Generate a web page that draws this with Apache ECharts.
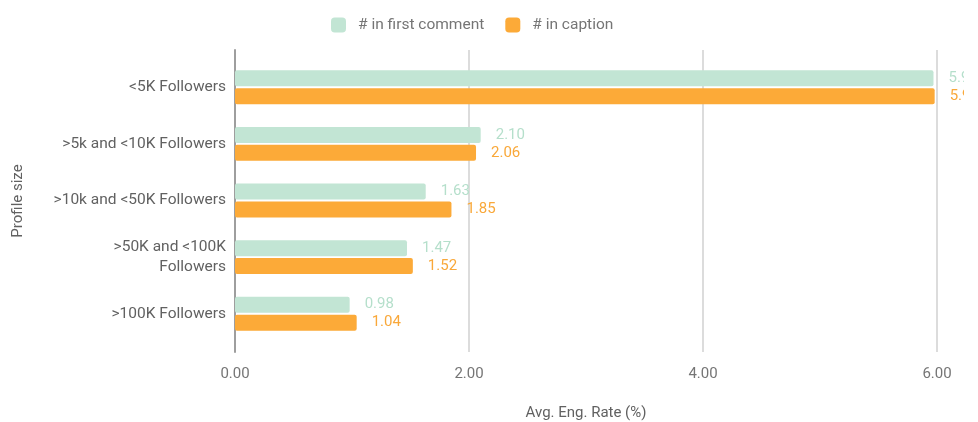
<!DOCTYPE html>
<html>
<head>
<meta charset="utf-8">
<script src="https://cdn.jsdelivr.net/npm/echarts@6/dist/echarts.min.js"></script>
<style>html,body{margin:0;padding:0;background:#fff}#c{width:978px;height:422px}</style>
</head>
<body>
<div id="c"></div>
<script>
const categories = ['<5K Followers', '>5k and <10K Followers', '>10k and <50K Followers', '>50K and <100K\nFollowers', '>100K Followers'];
const firstComment = [5.97, 2.10, 1.63, 1.47, 0.98];
const inCaption = [5.98, 2.06, 1.85, 1.52, 1.04];
const xTicks = [0, 2, 4, 6];
const seriesNames = ['# in first comment', '# in caption'];

const chart = echarts.init(document.getElementById('c'));
const font = 'Roboto, "Noto Sans", sans-serif';
const fs = 15;
chart.setOption({
  animation: false,
  textStyle: { fontFamily: font },
  legend: {
    top: 12, left: 326, itemWidth: 15, itemHeight: 15, itemGap: 21,
    icon: 'roundRect',
    textStyle: { color: '#757575', fontSize: 15.5, fontFamily: font, padding: [0, 0, 0, 7] },
    data: seriesNames
  },
  grid: [
    { left: 235, right: 41, top: 59, bottom: 80, outerBoundsMode: 'none', containLabel: false },
    { left: 235, right: 41, top: 50, bottom: 70, outerBoundsMode: 'none', containLabel: false }
  ],
  xAxis: [
    { gridIndex: 0, type: 'value', min: xTicks[0], max: xTicks[xTicks.length-1], interval: 2,
      axisLine: { show: false }, axisTick: { show: false }, axisLabel: { show: false }, splitLine: { show: false } },
    { gridIndex: 1, type: 'value', min: xTicks[0], max: xTicks[xTicks.length-1], interval: 2,
      axisLine: { show: false }, axisTick: { show: false },
      axisLabel: { color: '#757575', fontSize: fs, margin: 15, fontFamily: font, formatter: v => v.toFixed(2) },
      splitLine: { show: true, lineStyle: { color: '#dcdcdc', width: 2 } },
      name: 'Avg. Eng. Rate (%)', nameLocation: 'middle', nameGap: 54,
      nameTextStyle: { color: '#616161', fontSize: fs, fontFamily: font } }
  ],
  yAxis: [
    { gridIndex: 0, type: 'category', inverse: true, data: categories,
      axisLine: { show: false }, axisTick: { show: false },
      axisLabel: { color: '#616161', fontSize: 15.5, margin: 9, lineHeight: 20, fontFamily: font } },
    { gridIndex: 1, type: 'value', min: 0, max: 1,
      axisLine: { show: true, lineStyle: { color: '#9e9e9e', width: 2 } },
      axisTick: { show: false }, axisLabel: { show: false }, splitLine: { show: false },
      name: 'Profile size', nameLocation: 'middle', nameGap: 209,
      nameTextStyle: { color: '#616161', fontSize: fs, fontFamily: font } }
  ],
  series: [
    { name: seriesNames[0], type: 'bar', xAxisIndex: 0, yAxisIndex: 0, data: firstComment,
      barWidth: 16, barGap: '12%',
      itemStyle: { color: '#c2e5d4', borderRadius: 2 },
      label: { show: true, position: 'right', distance: 15, color: '#b5dfcb', fontSize: fs, fontFamily: font,
        formatter: p => p.value.toFixed(2) } },
    { name: seriesNames[1], type: 'bar', xAxisIndex: 0, yAxisIndex: 0, data: inCaption,
      barWidth: 16, barGap: '12%',
      itemStyle: { color: '#fcaa38', borderRadius: 2 },
      label: { show: true, position: 'right', distance: 15, color: '#f9a83a', fontSize: fs, fontFamily: font,
        formatter: p => p.value.toFixed(2) } }
  ],
  graphic: [
    { type: 'rect', right: 0, top: 0, z: 100, shape: { width: 14, height: 360 }, style: { fill: '#fff' } }
  ]
});
</script>
</body>
</html>
